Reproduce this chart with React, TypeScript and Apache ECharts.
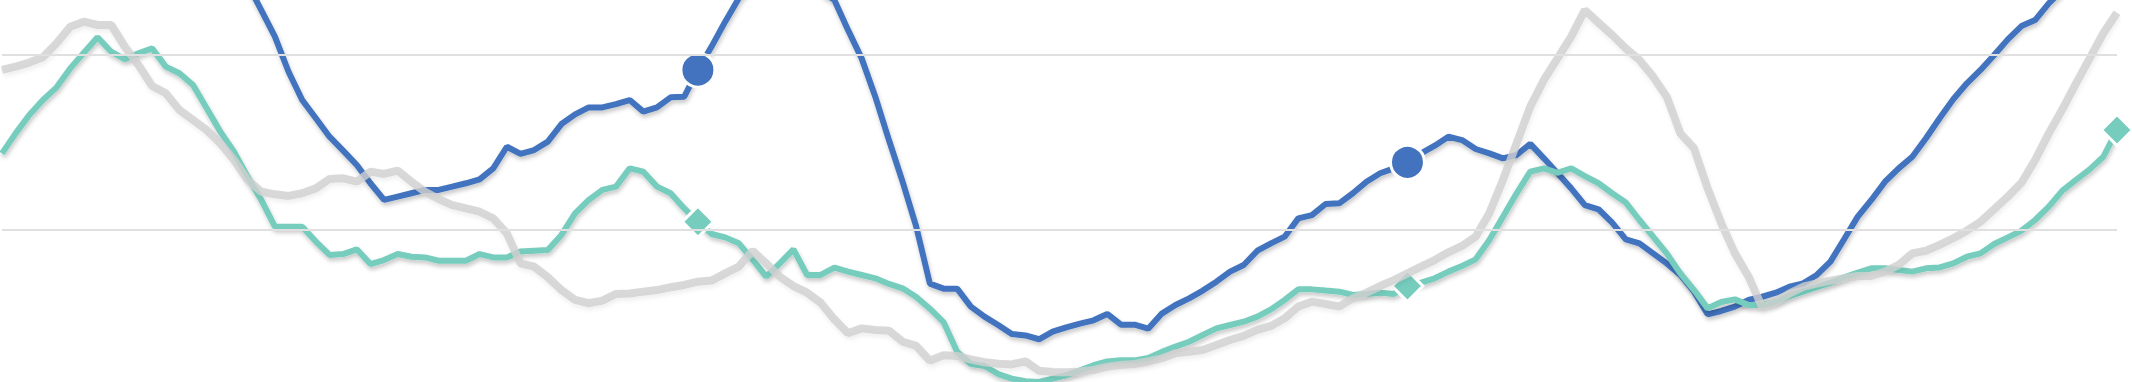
import React, { useEffect, useRef } from "react";
import * as echarts from "echarts";

// Weekly index values (arbitrary units: lower grid line = 0, upper grid line = 100)
const blueValues: number[] = [
  260, 262, 258, 255, 250, 248, 244, 240, 236, 230,
  225, 218, 210, 200, 190, 178, 168, 155, 140, 125.2,
  110.1, 90.1, 74.0, 63.6, 53.1, 45.2, 37.0, 26.6, 17.1, 19.0,
  20.9, 22.8, 22.8, 24.7, 26.6, 28.8, 35.1, 47.4, 43.3, 45.5,
  50.3, 60.3, 65.8, 69.8, 69.8, 71.7, 74.0, 67.4, 69.8, 75.5,
  75.9, 91.1, 104.4, 118.6, 131.9, 140, 146, 150, 148, 142,
  136, 130.9, 113.9, 97.7, 75.9, 51.2, 27.5, 1.9, -30.5, -33.4,
  -33.4, -43.6, -49.3, -54.1, -59.2, -60.0, -62.2, -57.9, -55.4, -53.3,
  -51.4, -47.8, -53.9, -53.9, -56.2, -47.6, -42.7, -38.9, -34.5, -29.4,
  -23.7, -19.9, -11.8, -7.6, -3.8, 6.6, 8.5, 14.8, 15.2, 20.9,
  27.5, 32.3, 35.1, 38.5, 43.6, 48.0, 53.1, 51.2, 46.1, 43.6,
  40.8, 42.7, 49.0, 40.8, 32.3, 23.7, 14.2, 11.8, 4.2, -5.3,
  -7.6, -13.3, -19.0, -25.6, -35.1, -48.0, -46.1, -43.6, -39.8, -38.0,
  -35.7, -32.3, -30.4, -25.6, -18.0, -5.3, 7.6, 17.1, 27.5, 35.1,
  41.7, 52.2, 63.6, 74.4, 83.5, 91.1, 99.6, 108.5, 116.1, 119.5,
  129.0, 136.6, 144, 150, 156, 162,
];

const tealValues: number[] = [
  43.6, 55.0, 65.5, 74.0, 81.2, 92.0, 100.9, 109.7, 101.5, 97.2,
  100.6, 103.4, 93.0, 89.2, 82.5, 69.3, 56.0, 44.6, 30.4, 17.1,
  1.9, 1.9, 1.9, -6.6, -14.2, -13.7, -11.0, -19.4, -17.1, -13.7,
  -15.2, -15.6, -17.5, -17.5, -17.5, -13.7, -15.6, -15.6, -12.3, -11.8,
  -11.4, -2.8, 9.5, 17.1, 22.8, 24.7, 35.1, 33.2, 24.7, 20.9,
  12.3, 4.7, -2.3, -4.2, -7.6, -16.7, -26.6, -19.0, -11.0, -25.6,
  -25.6, -21.4, -23.7, -25.6, -27.5, -30.7, -33.2, -38.1, -44.8, -52.4,
  -69.3, -76.3, -77.4, -82.0, -84.6, -86.1, -86.5, -84.6, -82.7, -79.9,
  -77.0, -74.8, -74.2, -74.2, -72.9, -69.4, -66.4, -63.6, -59.8, -56.0,
  -54.1, -52.2, -49.3, -45.2, -39.8, -33.8, -33.8, -34.5, -35.1, -37.0,
  -36.4, -35.7, -36.4, -31.9, -30.0, -27.5, -23.7, -20.5, -16.7, -5.7,
  7.6, 20.9, 33.2, 35.1, 32.6, 35.1, 30.7, 26.6, 20.9, 15.6,
  5.7, -3.8, -13.3, -24.7, -34.2, -44.6, -41.0, -39.5, -42.7, -42.7,
  -40.8, -37.6, -35.1, -32.6, -30.0, -26.9, -24.3, -21.8, -21.8, -22.8,
  -23.7, -21.8, -21.3, -19.0, -15.2, -13.3, -8.0, -4.2, -0.4, 5.7,
  13.3, 22.4, 28.5, 34.5, 41.7, 56.9,
];

const grayValues: number[] = [
  91.1, 93.0, 95.3, 98.3, 106.3, 115.7, 118.6, 116.7, 116.7, 104.4,
  93.9, 82.0, 77.8, 68.3, 62.6, 56.9, 49.3, 39.8, 28.5, 21.8,
  20.3, 19.4, 20.9, 23.7, 29.0, 29.4, 27.5, 33.2, 31.9, 33.8,
  27.5, 21.8, 17.6, 14.2, 12.3, 10.4, 6.6, -1.9, -19.0, -20.9,
  -26.9, -34.2, -39.8, -41.7, -40.2, -36.4, -36.1, -35.1, -34.2, -32.6,
  -31.3, -29.4, -28.8, -24.7, -20.9, -11.8, -19.0, -26.6, -31.9, -35.7,
  -41.4, -50.9, -58.8, -56.0, -56.9, -57.3, -63.6, -66.0, -74.4, -71.3,
  -71.7, -73.6, -75.3, -76.1, -76.5, -74.8, -80.1, -80.8, -81.0, -80.6,
  -79.7, -77.8, -76.9, -76.3, -74.8, -73.1, -70.2, -69.3, -68.3, -65.5,
  -62.6, -60.3, -56.9, -54.6, -50.3, -43.6, -40.8, -42.1, -43.6, -38.9,
  -35.7, -31.9, -28.5, -24.7, -20.9, -17.1, -12.7, -9.1, -3.8, 9.5,
  28.5, 49.3, 70.2, 85.4, 97.7, 110.1, 125.2, 118.0, 111.0, 103.4,
  96.8, 87.3, 75.9, 55.0, 46.5, 23.7, 3.8, -13.3, -26.6, -44.0,
  -40.8, -36.1, -32.3, -30.4, -28.8, -27.5, -26.2, -26.2, -23.7, -19.9,
  -13.3, -11.8, -8.5, -4.7, -0.4, 4.7, 11.8, 19.0, 26.9, 39.8,
  55.0, 68.7, 83.5, 97.7, 112.0, 123.7,
];

// Points marked with a symbol (end of each yearly block)
const markerIndices: number[] = [51, 103, 155];

// Reference grid lines
const gridLineValues: number[] = [0, 100];

const categories: string[] = blueValues.map((_, i) => `W${i + 1}`);

const BLUE = "#4373BE";
const TEAL = "#76CDBD";
const GRAY = "#cfcfcf";

const lineShadow = {
  shadowColor: "rgba(0,0,0,0.22)",
  shadowBlur: 4,
  shadowOffsetX: 1,
  shadowOffsetY: 3,
};

function withMarkers(values: number[], symbol: string, size: number, color: string) {
  return values.map((v, i) =>
    markerIndices.includes(i)
      ? {
          value: v,
          symbol,
          symbolSize: size,
          itemStyle: { color, borderColor: "#ffffff", borderWidth: 3 },
        }
      : v
  );
}

export default function App() {
  const ref = useRef<HTMLDivElement>(null);

  useEffect(() => {
    document.body.style.margin = "0";
    if (!ref.current) return;
    const chart = echarts.init(ref.current, undefined, { renderer: "svg" });
    chart.setOption({
      animation: false,
      backgroundColor: "#ffffff",
      grid: { left: 2, right: 15, top: 0, bottom: 0, containLabel: false },
      xAxis: {
        type: "category",
        data: categories,
        boundaryGap: false,
        show: false,
      },
      yAxis: {
        type: "value",
        min: -86.53,
        max: 130.93,
        show: false,
        splitLine: { show: false },
      },
      series: [
        {
          type: "line",
          data: [],
          z: 1,
          silent: true,
          markLine: {
            silent: true,
            symbol: "none",
            label: { show: false },
            lineStyle: { color: "#e0e0e0", width: 2, type: "solid" },
            emphasis: { disabled: true },
            data: gridLineValues.map((v) => ({ yAxis: v })),
          },
        },
        {
          type: "line",
          name: "Blue",
          data: withMarkers(blueValues, "circle", 34, BLUE),
          z: 2,
          symbol: "none",
          showSymbol: true,
          showAllSymbol: true,
          clip: true,
          silent: true,
          lineStyle: { color: BLUE, width: 6, ...lineShadow },
          itemStyle: { color: BLUE },
        },
        {
          type: "line",
          name: "Teal",
          data: withMarkers(tealValues, "diamond", 31, TEAL),
          z: 3,
          symbol: "none",
          showSymbol: true,
          showAllSymbol: true,
          clip: true,
          silent: true,
          lineStyle: { color: TEAL, width: 6, ...lineShadow },
          itemStyle: { color: TEAL },
        },
        {
          type: "line",
          name: "Gray",
          data: grayValues,
          z: 4,
          symbol: "none",
          showSymbol: false,
          clip: true,
          silent: true,
          lineStyle: { color: GRAY, width: 8, opacity: 0.8, ...lineShadow, shadowColor: "rgba(0,0,0,0.08)" },
        },
      ],
    });
    return () => {
      chart.dispose();
    };
  }, []);

  return <div ref={ref} style={{ width: 2132, height: 382 }} />;
}
